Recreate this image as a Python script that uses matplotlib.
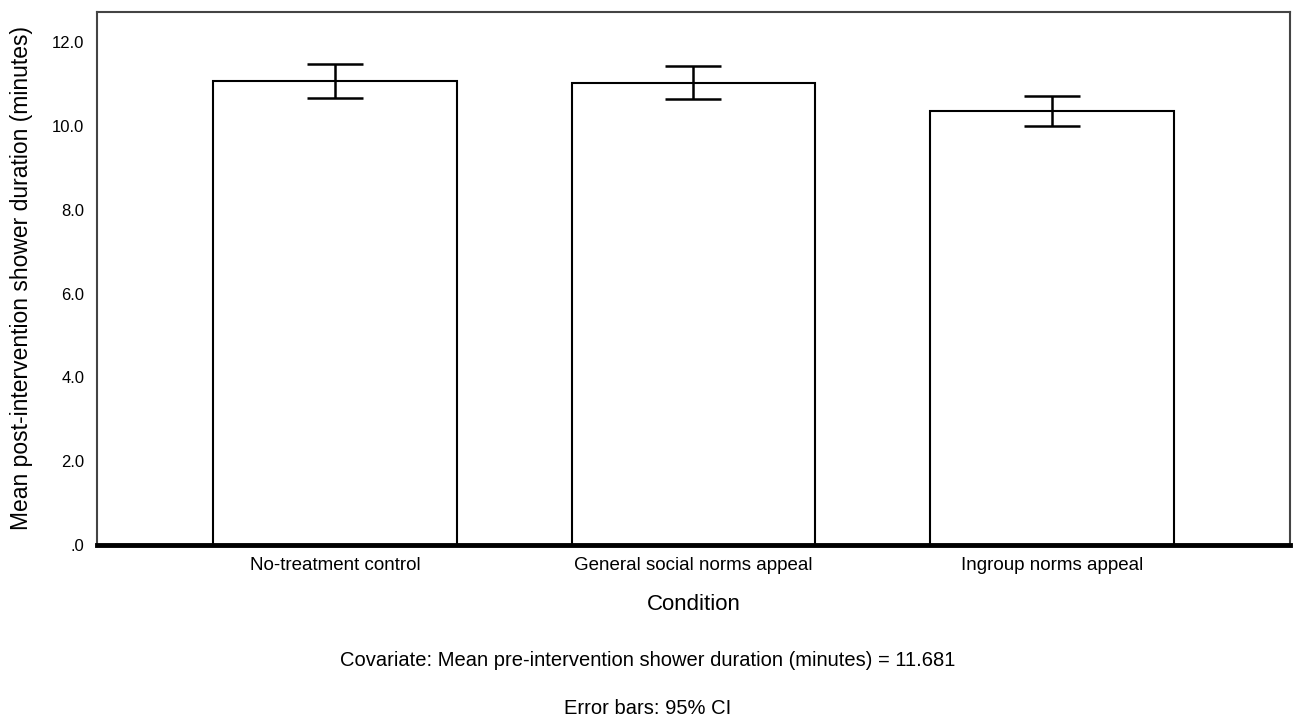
import numpy as np
import matplotlib
matplotlib.use("Agg")
from matplotlib import pyplot as plt

plt.rcParams['font.family'] = ['Liberation Sans', 'DejaVu Sans']

# condiciones y medias ajustadas con sus intervalos de confianza
condiciones = ["No-treatment control", "General social norms appeal", "Ingroup norms appeal"]
medias = [11.08, 11.03, 10.35]
ic_inferior = [10.67, 10.65, 9.99]
ic_superior = [11.49, 11.43, 10.72]
ticks_y = [0, 2, 4, 6, 8, 10, 12]
etiquetas_y = [".0", "2.0", "4.0", "6.0", "8.0", "10.0", "12.0"]

fig = plt.figure(figsize=(12.95, 7.2), dpi=100)
ax = fig.add_axes([0.0749, 0.2431, 0.9212, 0.7402])

x = np.arange(len(condiciones))
medias = np.array(medias)
err = [medias - np.array(ic_inferior), np.array(ic_superior) - medias]

ax.bar(x, medias, width=0.68, color="white", edgecolor="black", linewidth=1.5, zorder=2)
ax.errorbar(x, medias, yerr=err, fmt="none", ecolor="black", elinewidth=1.8,
            capsize=20.5, capthick=1.8, zorder=3)

ax.set_xlim(-0.664, 2.664)
ax.set_ylim(0, 12.72)
ax.set_yticks(ticks_y)
ax.set_yticklabels(etiquetas_y, fontsize=12)
ax.set_xticks(x)
ax.set_xticklabels(condiciones, fontsize=13.5)
ax.tick_params(axis="both", length=0)
ax.tick_params(axis="x", pad=9)
ax.tick_params(axis="y", pad=9)

for lado in ["top", "right", "left"]:
    ax.spines[lado].set_color("#444444")
    ax.spines[lado].set_linewidth(1.5)
ax.spines["bottom"].set_color("black")
ax.spines["bottom"].set_linewidth(3.5)

ax.set_xlabel("Condition", fontsize=16, labelpad=14)
ax.set_ylabel("Mean post-intervention shower duration (minutes)", fontsize=16.5, labelpad=14)

fig.text(0.5, 1 - 660 / 720, "Covariate: Mean pre-intervention shower duration (minutes) = 11.681",
         ha="center", va="center", fontsize=14.5)
fig.text(0.5, 1 - 708 / 720, "Error bars: 95% CI", ha="center", va="center", fontsize=14.5)

fig.savefig("out.png", dpi=100)
